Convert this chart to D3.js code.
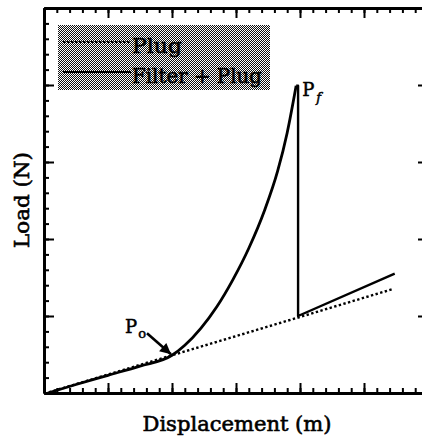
<!DOCTYPE html>
<html>
<head>
<meta charset="utf-8">
<script src="https://cdn.jsdelivr.net/npm/d3@7"></script>
<style>
  html, body { margin: 0; padding: 0; background: #fff; }
  svg { display: block; }
  text { font-family: "DejaVu Serif", "Liberation Serif", serif; fill: #000; }
</style>
</head>
<body>
<svg id="chart" width="422" height="441"></svg>
<script>
// Plug alone: straight load-displacement response
const plugX = [0.08, 2.0, 3.97, 5.45];
const plugY = [0.01, 0.49, 0.98, 1.35];

// Filter + plug: follows the plug, stiffens after Po, peaks at Pf, drops back
const filterX = [0.06, 0.5, 1.0, 1.5, 2.0, 2.2, 2.45, 2.7, 2.95, 3.2, 3.45, 3.65, 3.8, 3.94];
const filterY = [0.0, 0.11, 0.23, 0.35, 0.49, 0.62, 0.84, 1.12, 1.47, 1.88, 2.38, 2.88, 3.38, 3.99];
const afterX = [3.94, 3.97, 3.97, 5.48];
const afterY = [3.99, 3.99, 1.0, 1.55];

const legendLabels = ["Plug", "Filter + Plug"];

const svg = d3.select("#chart");
const x = d3.scaleLinear().domain([0, 6]).range([44, 428]);
const y = d3.scaleLinear().domain([0, 5]).range([393, 8]);

const majorX = d3.range(0, 6.01, 1);
const minorX = d3.range(0, 6.01, 0.2);
const majorY = d3.range(0, 5.01, 1);
const minorY = d3.range(0, 5.01, 0.2);

function styleAxis(g, w) {
  g.select(".domain").attr("stroke-width", w).attr("stroke", "#000");
  g.selectAll(".tick line").attr("stroke-width", 2).attr("stroke", "#000");
  g.selectAll(".tick text").remove();
}

function frame(values, size) {
  svg.append("g").attr("transform", `translate(0,${y(0)})`)
    .call(d3.axisBottom(x).tickValues(values.x).tickSize(-size).tickSizeOuter(0).tickFormat(""))
    .call(g => styleAxis(g, 2.8));
  svg.append("g").attr("transform", `translate(0,${y(5)})`)
    .call(d3.axisTop(x).tickValues(values.x).tickSize(-size).tickSizeOuter(0).tickFormat(""))
    .call(g => styleAxis(g, 2.8));
  svg.append("g").attr("transform", `translate(${x(0)},0)`)
    .call(d3.axisLeft(y).tickValues(values.y).tickSize(-size).tickSizeOuter(0).tickFormat(""))
    .call(g => styleAxis(g, 2.8));
  svg.append("g").attr("transform", `translate(${x(6)},0)`)
    .call(d3.axisRight(y).tickValues(values.y).tickSize(-size).tickSizeOuter(0).tickFormat(""))
    .call(g => styleAxis(g, 2.8));
}
frame({ x: minorX, y: minorY }, 5);
frame({ x: majorX, y: majorY }, 10);

// curves
const straight = d3.line().x(d => x(d[0])).y(d => y(d[1]));
const smooth = d3.line().x(d => x(d[0])).y(d => y(d[1])).curve(d3.curveMonotoneX);

svg.append("path")
  .datum(d3.zip(plugX, plugY))
  .attr("d", straight)
  .attr("fill", "none").attr("stroke", "#000")
  .attr("stroke-width", 2.4).attr("stroke-dasharray", "2.4,2.4");

svg.append("path")
  .datum(d3.zip(filterX, filterY))
  .attr("d", smooth)
  .attr("fill", "none").attr("stroke", "#000").attr("stroke-width", 2.8);

svg.append("path")
  .datum(d3.zip(afterX, afterY))
  .attr("d", straight)
  .attr("fill", "none").attr("stroke", "#000").attr("stroke-width", 2.4)
  .attr("stroke-linejoin", "round");

// legend with halftone fill
const defs = svg.append("defs");
const pat = defs.append("pattern").attr("id", "halftone")
  .attr("width", 2).attr("height", 2).attr("patternUnits", "userSpaceOnUse");
pat.append("rect").attr("width", 2).attr("height", 2).attr("fill", "#fff");
pat.append("rect").attr("x", 0).attr("y", 0).attr("width", 1).attr("height", 1).attr("fill", "#111");
pat.append("rect").attr("x", 1).attr("y", 1).attr("width", 1).attr("height", 1).attr("fill", "#111");

const legend = svg.append("g").attr("transform", "translate(58,25)");
legend.append("rect").attr("width", 212).attr("height", 65).attr("fill", "url(#halftone)");
legend.append("line").attr("x1", 5).attr("x2", 73).attr("y1", 17).attr("y2", 17)
  .attr("stroke", "#000").attr("stroke-width", 1.8).attr("stroke-dasharray", "2.5,1.5");
legend.append("line").attr("x1", 5).attr("x2", 73).attr("y1", 47).attr("y2", 47)
  .attr("stroke", "#000").attr("stroke-width", 1.8);
legend.selectAll("text.lbl").data(legendLabels).join("text")
  .attr("class", "lbl")
  .attr("x", 74).attr("y", (d, i) => 28 + i * 30)
  .attr("font-size", 20)
  .attr("stroke", "#000").attr("stroke-width", 0.6)
  .attr("textLength", (d, i) => i === 0 ? 50 : 130)
  .attr("lengthAdjust", "spacingAndGlyphs")
  .text(d => d);

// annotations
const pf = svg.append("text").attr("x", x(3.94) + 6).attr("y", y(3.99) + 10)
  .attr("font-size", 18).attr("stroke", "#000").attr("stroke-width", 0.5);
pf.append("tspan").text("P");
pf.append("tspan").attr("font-size", 13).attr("font-style", "italic").attr("dy", 6).attr("dx", 2).text("f");

const po = svg.append("text").attr("x", x(2.0) - 47).attr("y", y(0.49) - 22)
  .attr("font-size", 18).attr("stroke", "#000").attr("stroke-width", 0.5);
po.append("tspan").text("P");
po.append("tspan").attr("font-size", 13).attr("dy", 5).attr("dx", 1).text("o");

defs.append("marker").attr("id", "arrowhead")
  .attr("viewBox", "0 0 10 10").attr("refX", 10).attr("refY", 5)
  .attr("markerWidth", 13).attr("markerHeight", 11).attr("orient", "auto")
  .attr("markerUnits", "userSpaceOnUse")
  .append("path").attr("d", "M0,0 L10,5 L0,10 Z").attr("fill", "#000");
svg.append("line")
  .attr("x1", x(2.0) - 25).attr("y1", y(0.49) - 22)
  .attr("x2", x(2.0) - 1).attr("y2", y(0.49) - 1)
  .attr("stroke", "#000").attr("stroke-width", 2.6)
  .attr("marker-end", "url(#arrowhead)");

// axis titles
svg.append("text").attr("x", 237).attr("y", 431)
  .attr("text-anchor", "middle").attr("font-size", 21)
  .attr("stroke", "#000").attr("stroke-width", 0.6)
  .attr("textLength", 189).attr("lengthAdjust", "spacingAndGlyphs")
  .text("Displacement (m)");
svg.append("text").attr("transform", "translate(29,200) rotate(-90)")
  .attr("text-anchor", "middle").attr("font-size", 21)
  .attr("stroke", "#000").attr("stroke-width", 0.6)
  .attr("textLength", 96).attr("lengthAdjust", "spacingAndGlyphs")
  .text("Load (N)");
</script>
</body>
</html>
